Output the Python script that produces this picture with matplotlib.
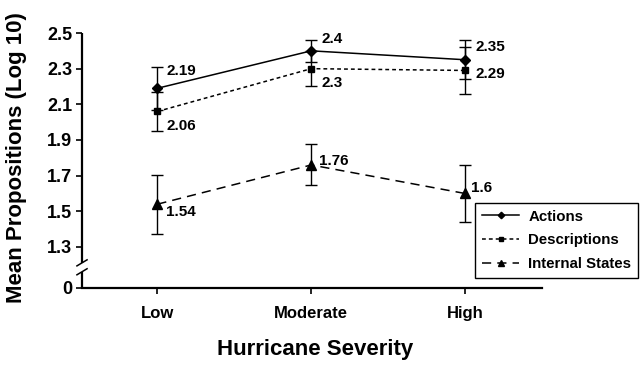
import numpy as np
import matplotlib
matplotlib.use("Agg")
from matplotlib import pyplot as plt
from matplotlib import transforms

plt.rcParams['font.family'] = ['Liberation Sans', 'DejaVu Sans']
plt.rcParams['font.weight'] = 'bold'

# data
severity = ["Low", "Moderate", "High"]
actions = [2.19, 2.40, 2.35]
actions_err = [0.12, 0.06, 0.11]
descriptions = [2.06, 2.30, 2.29]
descriptions_err = [0.11, 0.10, 0.13]
internal = [1.54, 1.76, 1.60]
internal_err = [0.165, 0.115, 0.16]

ytick_vals = [1.3, 1.5, 1.7, 1.9, 2.1, 2.3, 2.5]
zero_pos = 1.07  # where the "0" sits after the axis break

# label offsets (pixels) for the value annotations
actions_off = [(9, 17), (10, 12), (10, 13)]
descriptions_off = [(9, -15), (10, -14), (10, -4)]
internal_off = [(9, -8), (8, 4), (6, 5)]

fig = plt.figure(figsize=(6.41, 3.66), dpi=100)
ax = fig.add_axes([82/641, 1-288/366, 460/641, 255/366])
x = np.arange(len(severity))

series = [
    ("Actions", actions, actions_err, actions_off, dict(ls='-', marker='D', ms=5.5)),
    ("Descriptions", descriptions, descriptions_err, descriptions_off, dict(ls=(0, (2.5, 2)), marker='s', ms=5)),
    ("Internal States", internal, internal_err, internal_off, dict(ls=(0, (6, 4)), marker='^', ms=6.5)),
]

for name, vals, err, offs, style in series:
    ax.errorbar(x, vals, yerr=err, fmt='none', ecolor='black', elinewidth=1, capsize=4.5, capthick=1)
    ax.plot(x, vals, color='black', lw=1.1, mec='black', mfc='black', label=name, **style)
    for xi, v, (dx, dy) in zip(x, vals, offs):
        ax.annotate(f"{v:g}", (xi, v), xytext=(dx, dy), textcoords='offset pixels',
                    ha='left', va='center', fontsize=11, fontweight='bold')

ax.set_xlim(-0.49, 2.5)
ax.set_ylim(zero_pos, 2.5)
ax.set_xticks(x)
ax.set_xticklabels(severity, fontsize=12, fontweight='bold')
ax.set_yticks([zero_pos] + ytick_vals)
ax.set_yticklabels(["0"] + [f"{v:.1f}" for v in ytick_vals], fontsize=13, fontweight='bold')
ax.tick_params(axis='both', direction='out', length=4, width=1.2, pad=3)
ax.tick_params(axis='x', pad=9)

for s in ['top', 'right', 'left']:
    ax.spines[s].set_visible(False)
ax.spines['bottom'].set_linewidth(1.6)

# left spine with a break
trans = transforms.blended_transform_factory(ax.transAxes, ax.transData)
b_hi, b_lo = 1.211, 1.161
ax.plot([0, 0], [2.5, b_hi], color='black', lw=1.6, transform=trans, clip_on=False, solid_capstyle='butt')
ax.plot([0, 0], [b_lo, zero_pos], color='black', lw=1.6, transform=trans, clip_on=False, solid_capstyle='butt')
for yb in (b_hi, b_lo):
    ax.plot([-0.011, 0.011], [yb - 0.017, yb + 0.017], color='black', lw=1.1,
            transform=trans, clip_on=False)

leg = ax.legend(loc='upper left', bbox_to_anchor=(475/641, 1-203/366),
                bbox_transform=fig.transFigure, fontsize=10.8, frameon=True,
                fancybox=False, edgecolor='black', framealpha=1, handlelength=2.5,
                labelspacing=0.65, borderaxespad=0, borderpad=0.45, markerscale=0.6,
                handletextpad=0.6)
leg.get_frame().set_linewidth(1.0)
for t in leg.get_texts():
    t.set_fontweight('bold')

fig.text(17/641, 1-158/366, "Mean Propositions (Log 10)", rotation=90, ha='center', va='center',
         fontsize=16, fontweight='bold')
fig.text(315/641, 1-350/366, "Hurricane Severity", ha='center', va='center',
         fontsize=16, fontweight='bold')

fig.savefig("out.png", dpi=100, facecolor='white')
